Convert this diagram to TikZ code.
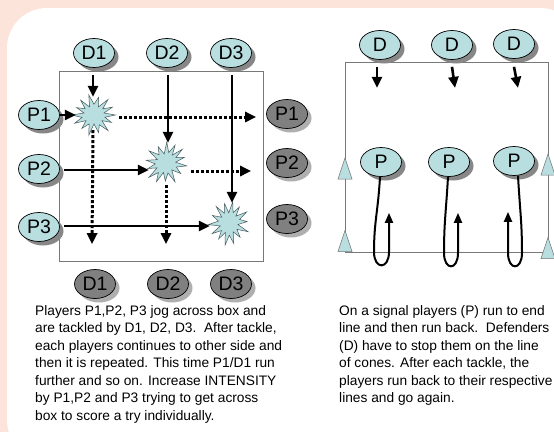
\documentclass[tikz,border=0pt]{standalone}
\usepackage{fontspec}
\setmainfont{Liberation Sans}
\usetikzlibrary{shapes.geometric,arrows.meta,calc}
\definecolor{pinkbg}{RGB}{252,228,218}
\definecolor{lblue}{RGB}{184,222,224}
\definecolor{gfill}{RGB}{128,128,128}
\definecolor{shd}{RGB}{135,135,135}
\definecolor{gshd}{RGB}{175,175,175}
\definecolor{boxc}{RGB}{120,120,120}
\definecolor{starc}{RGB}{70,90,95}
\newcommand\bnode[3]{\fill[shd] ($(#2)+(4,4)$) ellipse [x radius=20.5pt, y radius=14.5pt]; \node[pl] (#1) at (#2) {#3};}
\newcommand\gnode[3]{\fill[gshd] ($(#2)+(4,4)$) ellipse [x radius=20.5pt, y radius=14.5pt]; \node[gpl] (#1) at (#2) {#3};}
\begin{document}
\begin{tikzpicture}[x=1pt,y=-1pt,
  pl/.style={ellipse, draw=black, line width=0.7pt, fill=lblue, minimum width=41pt, minimum height=29pt, inner sep=0pt, font=\fontsize{19.5}{19.5}\selectfont},
  gpl/.style={pl, fill=gfill},
  field/.style={draw=boxc, line width=0.8pt, inner sep=0pt},
  hub/.style={circle, minimum size=38pt, inner sep=0pt},
  burst/.pic={\filldraw[fill=lblue, draw=starc, line width=0.5pt, xscale=1.02, yscale=0.9]
     (0:21) \foreach \k/\ri/\ro in {0/11/19, 1/10/22, 2/12/20, 3/10/23, 4/11/19, 5/10/21, 6/12/22,
       7/10/19, 8/11/21, 9/10/23, 10/12/20, 11/10/22, 12/11/20, 13/10/21}
     { -- ({(\k+0.5)*360/14}:\ri) -- ({(\k+1)*360/14}:\ro) } -- cycle;},
  sarr/.style={line width=2.6pt, -{Triangle[length=11pt,width=10pt]}},
  darr/.style={line width=3pt, dash pattern=on 3pt off 2pt, -{Triangle[length=11pt,width=10pt]}},
  larr/.style={line width=2pt, -{Triangle[length=10pt,width=8pt]}},
  capt/.style={align=left, inner sep=0pt, font=\fontsize{13.75}{17.5}\selectfont},
  cone/.pic={\draw[draw=boxc, fill=lblue, line width=0.5pt] (0,-10.5) -- (7,10.5) -- (-7,10.5) -- cycle;}
]
\useasboundingbox (0,0) rectangle (554,432);
\clip (0,0) rectangle (554,432);
\fill[pinkbg] (0,0) rectangle (554,432);
\fill[white, rounded corners=40pt] (7,8) rectangle (580,460);

% ---------- left diagram ----------
\node[field, minimum width=204pt, minimum height=190pt] (fa) at (161,166) {};

\node[hub] (s1) at (94,115) {};
\node[hub] (s2) at (166,163) {};
\node[hub] (s3) at (229,223) {};
\pic at (s1) {burst};
\pic[rotate=40] at (s2) {burst};
\pic[rotate=80] at (s3) {burst};

\bnode{D1t}{94,53}{D1}
\bnode{D2t}{167,53}{D2}
\bnode{D3t}{231,53}{D3}
\bnode{P1l}{39,115}{P1}
\bnode{P2l}{39,169}{P2}
\bnode{P3l}{39,227}{P3}
\gnode{P1r}{287,114}{P1}
\gnode{P2r}{287,163}{P2}
\gnode{P3r}{287,219}{P3}
\gnode{D1b}{95,284}{D1}
\gnode{D2b}{168,284}{D2}
\gnode{D3b}{231,284}{D3}

\draw[sarr] ($(D1t.south)+(-1,7)$) -- ($(s1.north)+(-1,1)$);
\draw[sarr] (P1l.east) -- ($(s1.west)+(1,0)$);
\draw[sarr] ($(D2t.south)+(1,7)$) -- ($(s2.north)+(2,-1)$);
\draw[sarr] ($(P2l.east)+(4,1)$) -- ($(s2.west)+(2,7)$);
\draw[sarr] ($(D3t.south)+(1,7)$) -- ($(s3.north)+(3,-1)$);
\draw[sarr] ($(P3l.east)+(4,-1)$) -- ($(s3.west)+(0,3)$);
\draw[darr] ($(s1.east)+(6,2)$) -- ($(P1r.west)+(-10,3)$);
\draw[darr] ($(s1.south)+(-1,-4)$) -- ($(D1b.north)+(-3,-25)$);
\draw[darr] ($(s2.east)+(6,8)$) -- ($(P2r.west)+(-15,8)$);
\draw[darr] ($(s2.south)+(0,3)$) -- ($(D2b.north)+(-2,-25)$);

% ---------- right diagram ----------
\node[field, minimum width=203pt, minimum height=190pt] (fb) at (446.5,157) {};
\pic at (345,168.5) {cone};
\pic at (345,241) {cone};
\pic at (548,164.5) {cone};
\pic at (548,248) {cone};

\bnode{Dr1}{380,45}{D}
\bnode{Dr2}{452,45}{D}
\bnode{Dr3}{514,44}{D}
\bnode{Pr1}{381,162}{P}
\bnode{Pr2}{449,162}{P}
\bnode{Pr3}{514,161}{P}

\draw[sarr] ($(Dr1.south)+(-3,7)$) -- ++(0,21);
\draw[sarr] ($(Dr2.south)+(0,7)$) -- ++(3,21);
\draw[sarr] ($(Dr3.south)+(0,8)$) -- ++(4,21);

\draw[larr] ($(Pr1.south)+(-1,0)$) .. controls +(-2,35) and +(0,-30) .. ++(-6,75)
  .. controls +(0,18) and +(0,18) .. ++(15,0) -- ++(0,-39);
\draw[larr] ($(Pr2.south)+(-1,0)$) .. controls +(-2,35) and +(0,-30) .. ++(-4,76)
  .. controls +(0,18) and +(0,18) .. ++(14,0) -- ++(0,-40);
\draw[larr] ($(Pr3.south)+(4,0)$) .. controls +(2,35) and +(0,-30) .. ++(4,77)
  .. controls +(0,18) and +(0,18) .. ++(-14,0) -- ++(0,-41);

% ---------- captions ----------
\node[capt, anchor=north west] (ca) at (35,305) {Players P1,P2, P3 jog across box and\\
are tackled by D1, D2, D3.\ \ After tackle,\\
each players continues to other side and\\
then it is repeated. This time P1/D1 run\\
further and so on. Increase INTENSITY\\
by P1,P2 and P3 trying to get across\\
box to score a try individually.};
\node[capt, anchor=north west] (cb) at (339,305) {On a signal players (P) run to end\\
line and then run back.\ \ Defenders\\
(D) have to stop them on the line\\
of cones. After each tackle, the\\
players run back to their respective\\
lines and go again.};
\end{tikzpicture}
\end{document}
